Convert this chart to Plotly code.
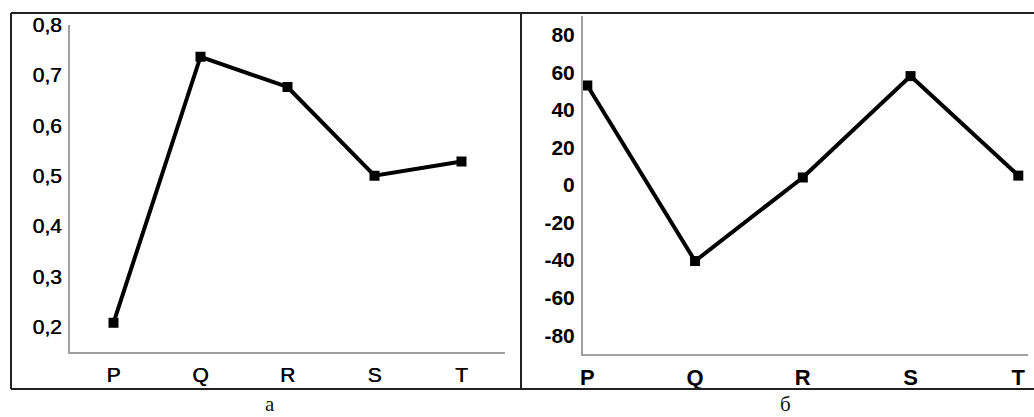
import plotly.graph_objects as go

categories = ["P", "Q", "R", "S", "T"]
values_a = [0.208, 0.736, 0.676, 0.500, 0.528]
values_b = [53, -40.5, 4, 58, 5]

ticks_a = [0.2, 0.3, 0.4, 0.5, 0.6, 0.7, 0.8]
ticklabels_a = ["0,2", "0,3", "0,4", "0,5", "0,6", "0,7", "0,8"]
ticks_b = [-80, -60, -40, -20, 0, 20, 40, 60, 80]
ticklabels_b = ["-80", "-60", "-40", "-20", "0", "20", "40", "60", "80"]
panel_labels = ["а", "б"]

W, H = 1034, 417
def px(x):
    return x / W
def py(y):
    return (H - y) / H

fig = go.Figure()
line_style = dict(color="black", width=4)
marker_style = dict(symbol="square", size=10, color="black")

fig.add_trace(go.Scatter(x=categories, y=values_a, mode="lines+markers",
                         line=line_style, marker=marker_style,
                         xaxis="x", yaxis="y", showlegend=False))
fig.add_trace(go.Scatter(x=categories, y=values_b, mode="lines+markers",
                         line=line_style, marker=marker_style,
                         xaxis="x2", yaxis="y2", showlegend=False))

axis_color = "#a0a0a0"
common = dict(showgrid=False, zeroline=False, showline=True, linecolor=axis_color,
              linewidth=2, ticks="", automargin=False, fixedrange=True)
medium_font = dict(family="Liberation Sans", size=21, color="#000",
                   shadow="0.5px 0 0 #000")
fig.update_layout(
    width=W, height=H,
    margin=dict(l=0, r=0, t=0, b=0, autoexpand=False),
    paper_bgcolor="white", plot_bgcolor="white",
    xaxis=dict(domain=[px(70), px(505)], type="category", range=[-0.5, 4.5],
               anchor="y", tickfont=medium_font,
               ticklabelstandoff=3, **common),
    yaxis=dict(domain=[py(352), py(24.5)], range=[0.15, 0.8],
               anchor="x", tickvals=ticks_a, ticktext=ticklabels_a,
               tickfont=medium_font,
               ticklabelstandoff=2, **common),
    xaxis2=dict(domain=[px(583), px(1028)], type="category", range=[-0.04, 4.09],
                anchor="y2",
                tickfont=dict(family="Liberation Sans", size=22, color="#000", weight="bold"),
                ticklabelstandoff=3, **common),
    yaxis2=dict(domain=[py(354), py(16)], range=[-90, 90],
                anchor="x2", tickvals=ticks_b, ticktext=ticklabels_b,
                tickfont=dict(family="Liberation Sans", size=21, color="#000", weight="bold"),
                ticklabelstandoff=2, **common),
)

frame = dict(color="#222", width=2)
shapes = [
    dict(type="line", xref="paper", yref="paper", x0=px(11), x1=1, y0=py(13), y1=py(13), line=frame),
    dict(type="line", xref="paper", yref="paper", x0=px(11), x1=1, y0=py(389), y1=py(389), line=frame),
    dict(type="line", xref="paper", yref="paper", x0=px(11), x1=px(11), y0=py(13), y1=py(389), line=frame),
    dict(type="line", xref="paper", yref="paper", x0=px(521), x1=px(521), y0=py(13), y1=py(389), line=frame),
]
fig.update_layout(shapes=shapes)

for label, xc in zip(panel_labels, [270, 785]):
    fig.add_annotation(text=label, x=px(xc), y=py(404), xref="paper", yref="paper",
                       showarrow=False, xanchor="center", yanchor="middle",
                       font=dict(family="Liberation Serif", size=21, color="#111"))

fig.write_html("out.html", config={"displayModeBar": False},
               post_script="document.body.style.margin='0';document.body.style.overflow='hidden';")
